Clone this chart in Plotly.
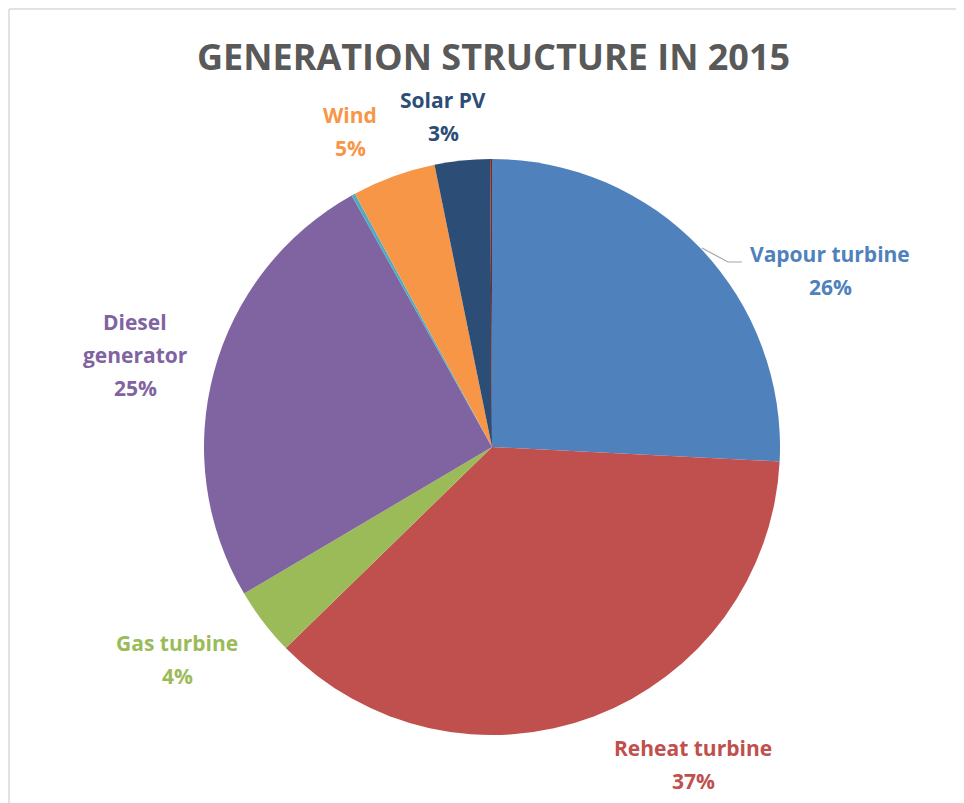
import plotly.graph_objects as go

W, H = 964, 803
OFF = 8  # page body margin, so shift everything up/left

# slices, clockwise from 12 o'clock
sources = ["Vapour turbine", "Reheat turbine", "Gas turbine", "Diesel generator",
           "Hydro", "Wind", "Solar PV", "Other"]
shares = [25.8, 36.9, 3.8, 25.4, 0.2, 4.7, 3.1, 0.1]
colors = ["#4F81BD", "#C0504D", "#9BBB59", "#8064A2",
          "#4BACC6", "#F79646", "#2C4D75", "#772C2A"]

# which slices get a label, and where (pixel centre of the name line)
label_pos = {
    "Vapour turbine": (830, 254),
    "Reheat turbine": (693, 748),
    "Gas turbine": (177, 643),
    "Diesel generator": (135, 322),
    "Wind": (350, 115),
    "Solar PV": (443, 100),
}


def px(x):
    return (x - OFF) / W


def py(y):
    return 1 - (y - OFF) / H


fig = go.Figure(
    go.Pie(
        labels=sources,
        values=shares,
        sort=False,
        direction="clockwise",
        rotation=0,
        marker=dict(colors=colors, line=dict(width=0)),
        textinfo="none",
        hovertemplate="%{label}: %{percent}<extra></extra>",
        domain=dict(x=[px(204), px(780)], y=[py(735), py(159)]),
        showlegend=False,
    )
)

total = sum(shares)
annotations = []
for name, val, col in zip(sources, shares, colors):
    if name not in label_pos:
        continue
    x, y = label_pos[name]
    lines = name.split(" ") if name == "Diesel generator" else [name]
    lines.append(f"{round(val / total * 100)}%")
    for i, t in enumerate(lines):
        annotations.append(dict(
            x=px(x), y=py(y + i * 33), xref="paper", yref="paper",
            text=f"<b>{t}</b>", showarrow=False,
            font=dict(family="Open Sans", size=21, color=col),
            xanchor="center", yanchor="middle",
        ))

annotations.append(dict(
    x=px(493), y=py(56), xref="paper", yref="paper",
    text="<b>GENERATION STRUCTURE IN 2015</b>", showarrow=False,
    font=dict(family="Open Sans", size=36, color="#595959"),
    xanchor="center", yanchor="middle",
))

shapes = [
    # chart frame (top and left edges visible)
    dict(type="line", xref="paper", yref="paper", x0=px(9), y0=py(9), x1=1, y1=py(9),
         line=dict(color="#D9D9D9", width=1.5)),
    dict(type="line", xref="paper", yref="paper", x0=px(9), y0=py(9), x1=px(9), y1=0,
         line=dict(color="#D9D9D9", width=1.5)),
    # leader line for Vapour turbine
    dict(type="path", xref="paper", yref="paper",
         path=f"M {px(702)},{py(248)} L {px(728)},{py(262)} L {px(742)},{py(262)}",
         line=dict(color="#A6A6A6", width=1.2)),
]

fig.update_layout(
    width=W, height=H,
    margin=dict(l=0, r=0, t=0, b=0),
    paper_bgcolor="white",
    annotations=annotations,
    shapes=shapes,
)

fig.write_html("out.html")
